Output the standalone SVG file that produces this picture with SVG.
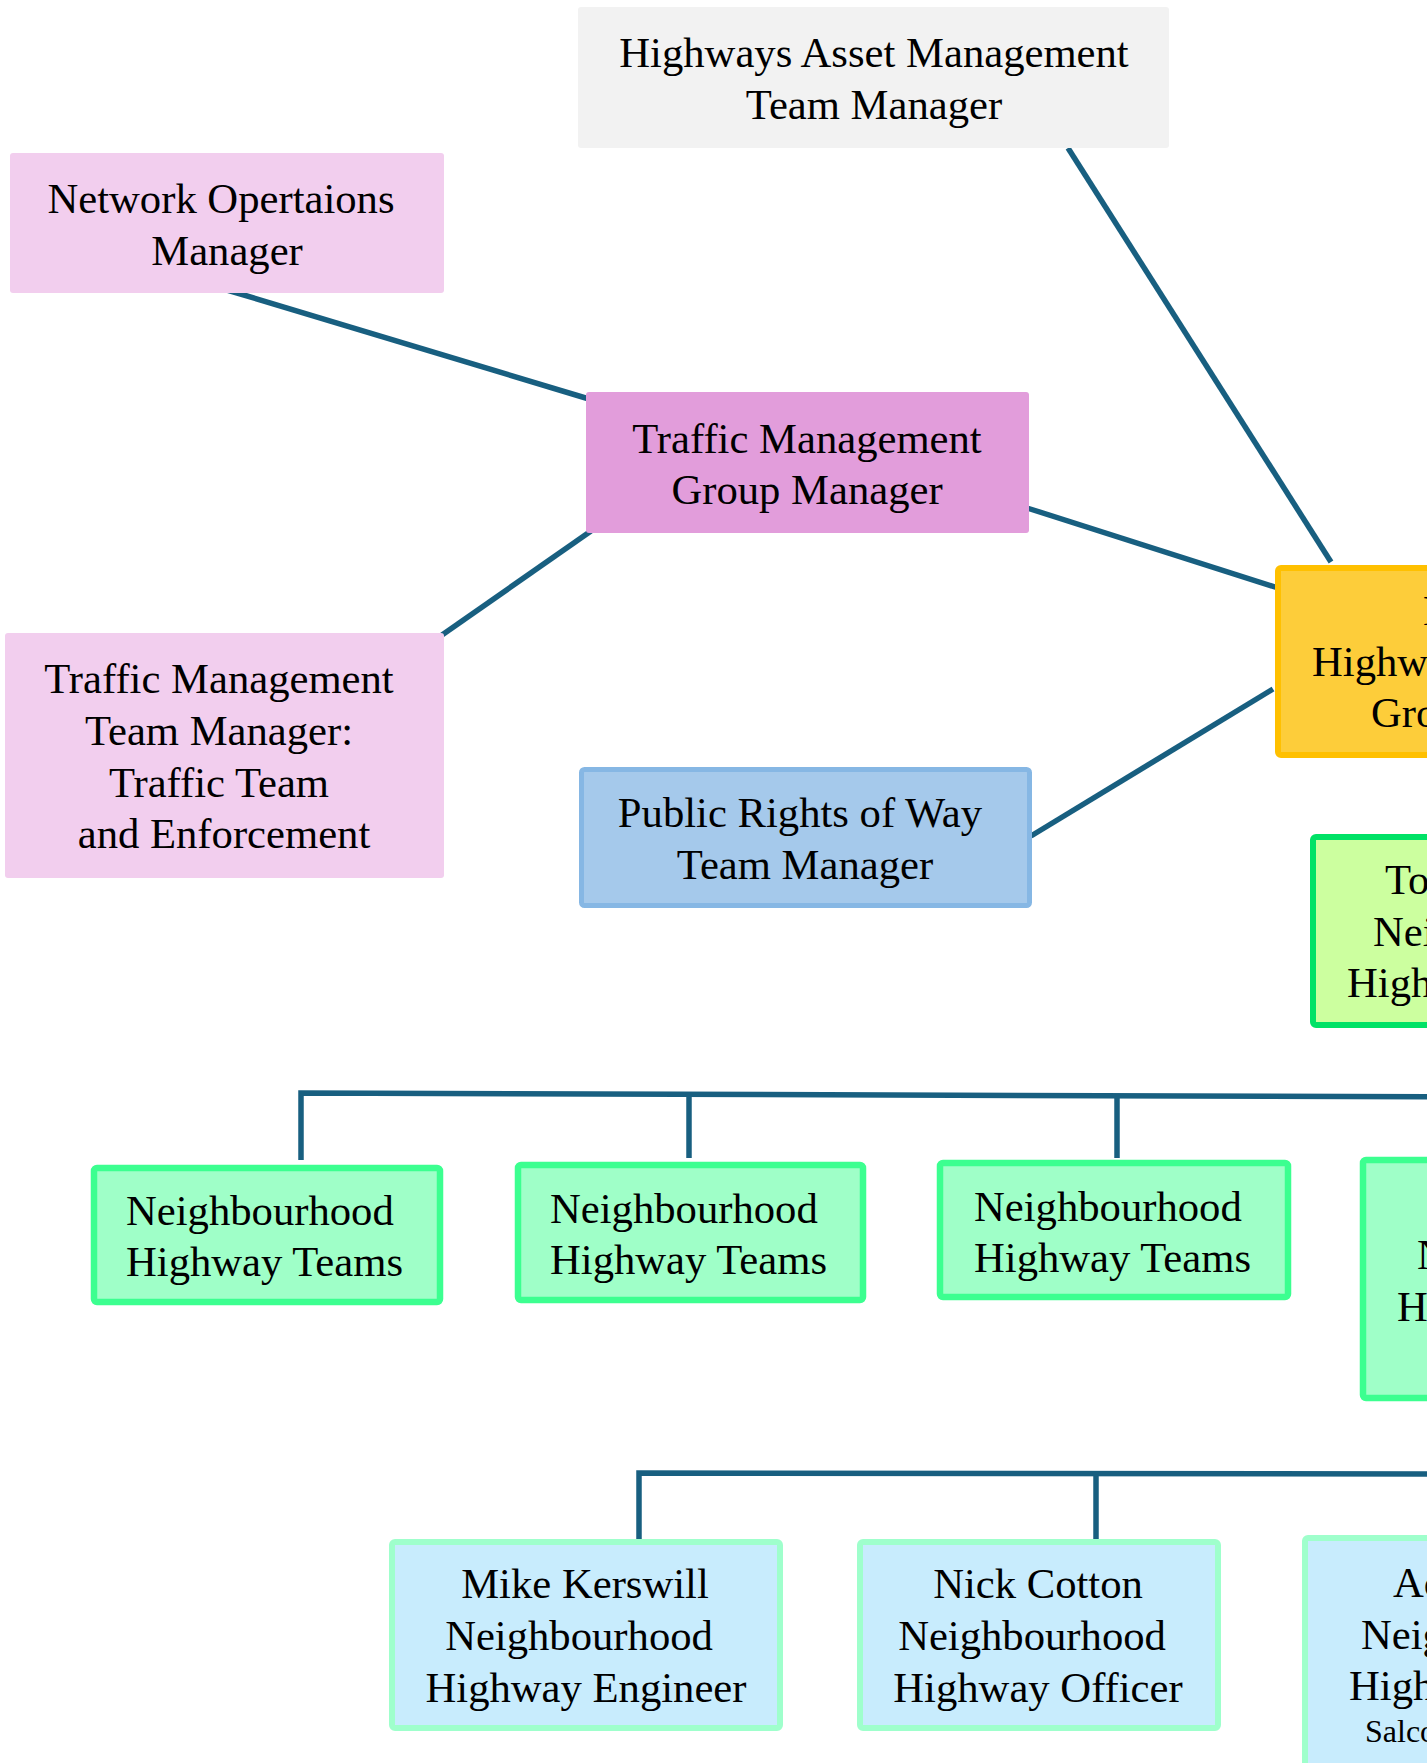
<svg xmlns="http://www.w3.org/2000/svg" width="1427" height="1763" viewBox="0 0 1427 1763">
<style>
text{font-family:"Liberation Serif","Times New Roman",serif;font-size:42.67px;fill:#000}
.c{text-anchor:middle}
.s{text-anchor:start}
.sm{font-size:32px}
.conn{stroke:#185f80;stroke-width:5.5;fill:none}
.grey{fill:#f2f2f2}
.lpink{fill:#f2ceee}
.pink{fill:#e29ddb}
.blue{fill:#a5c9eb;stroke:#86b7e4;stroke-width:5}
.yel{fill:#fdcd3a;stroke:#ffc000;stroke-width:6}
.lime{fill:#ccff9f;stroke:#00e266;stroke-width:6}
.mint{fill:#9fffc8;stroke:#3cff90;stroke-width:6.5}
.lblue{fill:#c8ecfd;stroke:#9fffcc;stroke-width:6}
</style>
<rect width="1427" height="1763" fill="#ffffff"/>
<g id="connectors">
<line class="conn" x1="1068" y1="148" x2="1331" y2="562"/>
<line class="conn" x1="227" y1="290" x2="589" y2="399"/>
<line class="conn" x1="1027" y1="508" x2="1278" y2="588"/>
<line class="conn" x1="591" y1="531" x2="442" y2="635"/>
<line class="conn" x1="1031" y1="836" x2="1273" y2="689"/>
<polyline class="conn" points="301,1160 301,1093 1500,1097"/>
<line class="conn" x1="689" y1="1093" x2="689" y2="1158"/>
<line class="conn" x1="1117" y1="1094" x2="1117" y2="1158"/>
<polyline class="conn" points="639,1545 639,1473 1500,1474"/>
<line class="conn" x1="1096" y1="1473" x2="1096" y2="1539"/>
</g>
<g id="asset-manager">
<rect class="grey" x="578" y="7" width="591" height="141" rx="3"/>
<text class="c" x="874" y="67">Highways Asset Management</text>
<text class="c" x="874" y="119">Team Manager</text>
</g>
<g id="network-ops">
<rect class="lpink" x="10" y="153" width="434" height="140" rx="3"/>
<text class="c" x="221" y="213">Network Opertaions</text>
<text class="c" x="227" y="265">Manager</text>
</g>
<g id="traffic-group">
<rect class="pink" x="586" y="392" width="443" height="141" rx="3"/>
<text class="c" x="807" y="453">Traffic Management</text>
<text class="c" x="807" y="504">Group Manager</text>
</g>
<g id="traffic-team">
<rect class="lpink" x="5" y="633" width="439" height="245" rx="3"/>
<text class="c" x="219" y="693">Traffic Management</text>
<text class="c" x="219" y="745">Team Manager:</text>
<text class="c" x="219" y="797">Traffic Team</text>
<text class="c" x="224" y="848">and Enforcement</text>
</g>
<g id="prow">
<rect class="blue" x="581.5" y="769.5" width="448" height="136" rx="3"/>
<text class="c" x="800" y="827">Public Rights of Way</text>
<text class="c" x="805" y="879">Team Manager</text>
</g>
<g id="head-highways">
<rect class="yel" x="1278" y="568" width="460" height="187" rx="3"/>
<text class="s" x="1423" y="625">Head of</text>
<text class="s" x="1312" y="676">Highways Maintenance</text>
<text class="s" x="1371" y="727">Group Manager</text>
</g>
<g id="torridge">
<rect class="lime" x="1313" y="837" width="400" height="188" rx="3"/>
<text class="s" x="1385" y="894">Torridge</text>
<text class="s" x="1373" y="946">Neighbourhood</text>
<text class="s" x="1347" y="997">Highway Manager</text>
</g>
<g id="nht-1">
<rect class="mint" x="94" y="1168" width="346" height="134" rx="3"/>
<text class="s" x="126" y="1225">Neighbourhood</text>
<text class="s" x="126" y="1276">Highway Teams</text>
</g>
<g id="nht-2">
<rect class="mint" x="518" y="1165" width="345" height="135" rx="3"/>
<text class="s" x="550" y="1223">Neighbourhood</text>
<text class="s" x="550" y="1274">Highway Teams</text>
</g>
<g id="nht-3">
<rect class="mint" x="940" y="1163" width="348" height="134" rx="3"/>
<text class="s" x="974" y="1221">Neighbourhood</text>
<text class="s" x="974" y="1272">Highway Teams</text>
</g>
<g id="nht-4">
<rect class="mint" x="1363" y="1160" width="360" height="238" rx="3"/>
<text class="s" x="1417" y="1269">Neighbourhood</text>
<text class="s" x="1397" y="1321">Highway Teams</text>
</g>
<g id="mike-kerswill">
<rect class="lblue" x="392" y="1542" width="388" height="186" rx="3"/>
<text class="c" x="585" y="1598">Mike Kerswill</text>
<text class="c" x="579" y="1650">Neighbourhood</text>
<text class="c" x="586" y="1702">Highway Engineer</text>
</g>
<g id="nick-cotton">
<rect class="lblue" x="860" y="1542" width="358" height="186" rx="3"/>
<text class="c" x="1038" y="1598">Nick Cotton</text>
<text class="c" x="1032" y="1650">Neighbourhood</text>
<text class="c" x="1038" y="1702">Highway Officer</text>
</g>
<g id="acting-officer">
<rect class="lblue" x="1305" y="1538" width="360" height="260" rx="3"/>
<text class="s" x="1393" y="1597">Acting</text>
<text class="s" x="1361" y="1649">Neighbourhood</text>
<text class="s" x="1349" y="1700">Highway Officer</text>
<text class="s sm" x="1365" y="1742">Salcombe</text>
</g>
</svg>
